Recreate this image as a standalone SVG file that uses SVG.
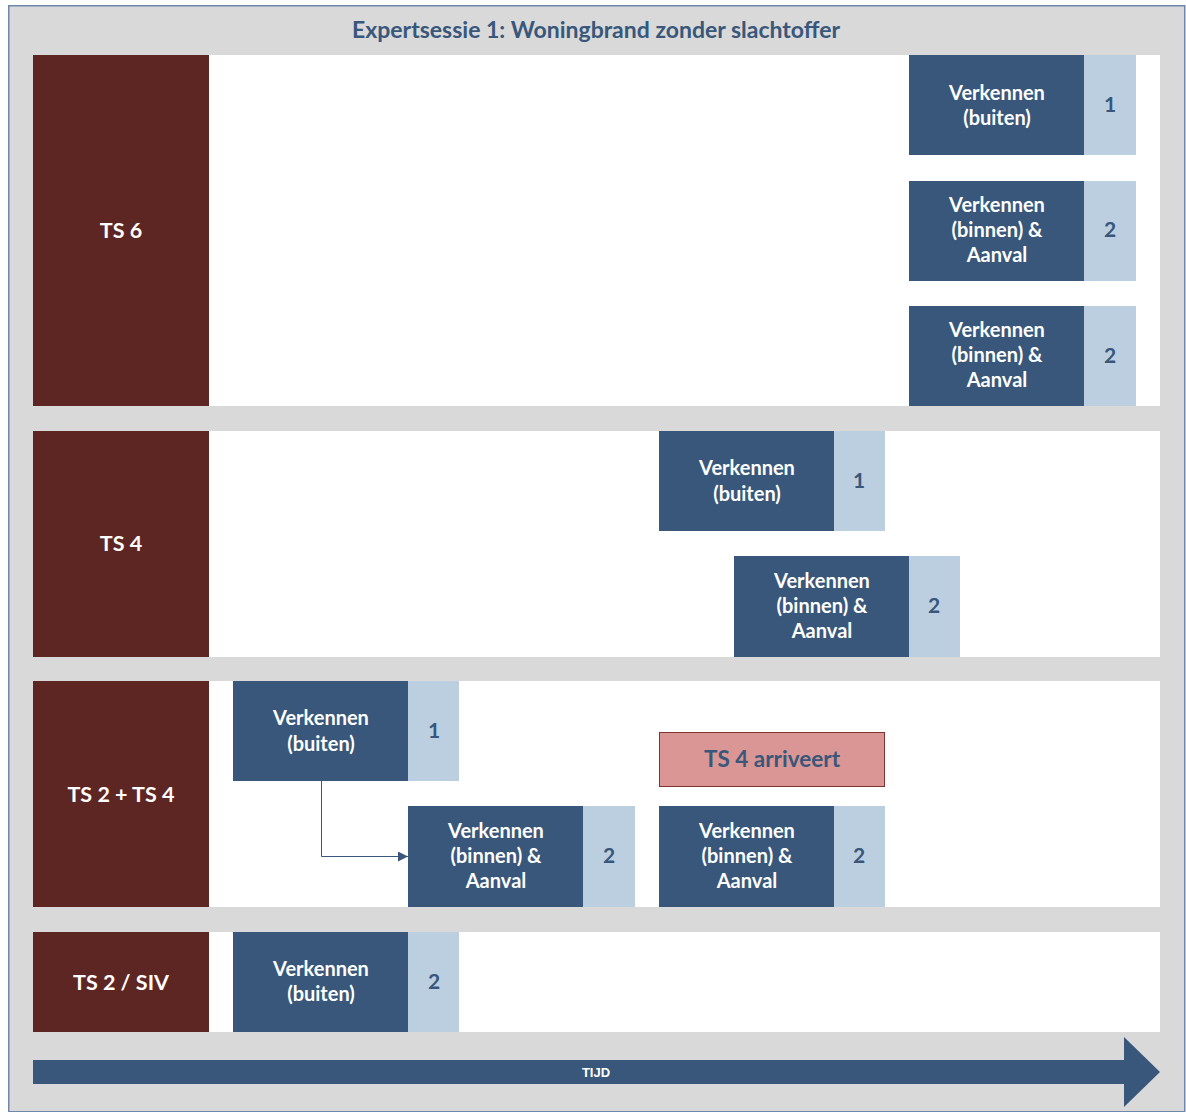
<svg xmlns="http://www.w3.org/2000/svg" width="1186" height="1112" viewBox="0 0 1186 1112">
  <style>
    .frame { fill: #d9d9d9; stroke: #6f87ab; stroke-width: 1.5; }
    .lane { fill: #ffffff; }
    .lab { fill: #5e2623; }
    .labt { fill: #ffffff; font-family: Lato, "Liberation Sans", sans-serif; font-weight: bold; font-size: 21.5px; text-anchor: middle; }
    .act { fill: #38577a; }
    .num { fill: #bccfe1; }
    .actt { fill: #ffffff; font-family: Lato, "Liberation Sans", sans-serif; font-weight: bold; font-size: 20px; text-anchor: middle; }
    .numt { fill: #38577a; font-family: Lato, "Liberation Sans", sans-serif; font-weight: bold; font-size: 21px; text-anchor: middle; }
    .title { fill: #38577a; font-family: Lato, "Liberation Sans", sans-serif; font-weight: bold; font-size: 23px; text-anchor: middle; }
    .conn { fill: none; stroke: #38577a; stroke-width: 1; }
  </style>
  <defs>
    <marker id="arrow" viewBox="0 0 10 10" refX="10" refY="5" markerWidth="14" markerHeight="10" markerUnits="userSpaceOnUse" orient="auto">
      <path d="M0,0 L10,5 L0,10 z" fill="#38577a"/>
    </marker>
  </defs>

  <rect class="frame" x="8.75" y="5.75" width="1176" height="1106"/>
  <text class="title" x="596" y="38">Expertsessie 1: Woningbrand zonder slachtoffer</text>

  <!-- lanes -->
  <rect class="lane" x="33" y="55" width="1127" height="351"/>
  <rect class="lane" x="33" y="431" width="1127" height="226"/>
  <rect class="lane" x="33" y="681" width="1127" height="226"/>
  <rect class="lane" x="33" y="932" width="1127" height="100"/>

  <g id="lane-ts6">
    <rect class="lab" x="33" y="55" width="176" height="351"/>
    <text class="labt" x="121" y="238">TS 6</text>
  </g>
  <g id="lane-ts4">
    <rect class="lab" x="33" y="431" width="176" height="226"/>
    <text class="labt" x="121" y="551">TS 4</text>
  </g>
  <g id="lane-ts2ts4">
    <rect class="lab" x="33" y="681" width="176" height="226"/>
    <text class="labt" x="121" y="802">TS 2 + TS 4</text>
  </g>
  <g id="lane-ts2siv">
    <rect class="lab" x="33" y="932" width="176" height="100"/>
    <text class="labt" x="121" y="990">TS 2 / SIV</text>
  </g>

  <!-- TS 6 activities -->
  <g id="ts6-a1">
    <rect class="act" x="909" y="55" width="175" height="100"/>
    <rect class="num" x="1084" y="55" width="52" height="100"/>
    <text class="actt" x="997" y="100">Verkennen</text>
    <text class="actt" x="997" y="125">(buiten)</text>
    <text class="numt" x="1110" y="112">1</text>
  </g>
  <g id="ts6-a2">
    <rect class="act" x="909" y="181" width="175" height="100"/>
    <rect class="num" x="1084" y="181" width="52" height="100"/>
    <text class="actt" x="997" y="212">Verkennen</text>
    <text class="actt" x="997" y="237">(binnen) &amp;</text>
    <text class="actt" x="997" y="262">Aanval</text>
    <text class="numt" x="1110" y="237">2</text>
  </g>
  <g id="ts6-a3">
    <rect class="act" x="909" y="306" width="175" height="100"/>
    <rect class="num" x="1084" y="306" width="52" height="100"/>
    <text class="actt" x="997" y="337">Verkennen</text>
    <text class="actt" x="997" y="362">(binnen) &amp;</text>
    <text class="actt" x="997" y="387">Aanval</text>
    <text class="numt" x="1110" y="363">2</text>
  </g>

  <!-- TS 4 activities -->
  <g id="ts4-a1">
    <rect class="act" x="659" y="431" width="175" height="100"/>
    <rect class="num" x="834" y="431" width="51" height="100"/>
    <text class="actt" x="747" y="475">Verkennen</text>
    <text class="actt" x="747" y="501">(buiten)</text>
    <text class="numt" x="859" y="488">1</text>
  </g>
  <g id="ts4-a2">
    <rect class="act" x="734" y="556" width="175" height="101"/>
    <rect class="num" x="909" y="556" width="51" height="101"/>
    <text class="actt" x="822" y="588">Verkennen</text>
    <text class="actt" x="822" y="613">(binnen) &amp;</text>
    <text class="actt" x="822" y="638">Aanval</text>
    <text class="numt" x="934" y="613">2</text>
  </g>

  <!-- TS 2 + TS 4 activities -->
  <g id="ts24-a1">
    <rect class="act" x="233" y="681" width="175" height="100"/>
    <rect class="num" x="408" y="681" width="51" height="100"/>
    <text class="actt" x="321" y="725">Verkennen</text>
    <text class="actt" x="321" y="751">(buiten)</text>
    <text class="numt" x="434" y="738">1</text>
  </g>
  <g id="ts24-a2">
    <rect class="act" x="408" y="806" width="175" height="101"/>
    <rect class="num" x="583" y="806" width="52" height="101"/>
    <text class="actt" x="496" y="838">Verkennen</text>
    <text class="actt" x="496" y="863">(binnen) &amp;</text>
    <text class="actt" x="496" y="888">Aanval</text>
    <text class="numt" x="609" y="863">2</text>
  </g>
  <g id="ts24-a3">
    <rect class="act" x="659" y="806" width="175" height="101"/>
    <rect class="num" x="834" y="806" width="51" height="101"/>
    <text class="actt" x="747" y="838">Verkennen</text>
    <text class="actt" x="747" y="863">(binnen) &amp;</text>
    <text class="actt" x="747" y="888">Aanval</text>
    <text class="numt" x="859" y="863">2</text>
  </g>
  <g id="ts24-arrival">
    <rect x="659.5" y="732.5" width="225" height="54" fill="#d99694" stroke="#7f3330" stroke-width="1"/>
    <text class="numt" x="772" y="767" style="font-size:22.5px">TS 4 arriveert</text>
  </g>

  <!-- TS 2 / SIV activity -->
  <g id="ts2siv-a1">
    <rect class="act" x="233" y="932" width="175" height="100"/>
    <rect class="num" x="408" y="932" width="51" height="100"/>
    <text class="actt" x="321" y="976">Verkennen</text>
    <text class="actt" x="321" y="1001">(buiten)</text>
    <text class="numt" x="434" y="989">2</text>
  </g>

  <!-- connectors -->
  <g id="connectors">
    <path class="conn" d="M321.5,781 V856.5 H408" marker-end="url(#arrow)"/>
  </g>

  <!-- time axis -->
  <g id="time-axis">
    <path d="M33,1060 H1124 V1037 L1160,1072 L1124,1107 V1084 H33 z" fill="#38577a"/>
    <text x="596" y="1077" fill="#ffffff" font-family="'Liberation Sans Narrow', 'Liberation Sans', sans-serif" font-weight="bold" font-size="13" text-anchor="middle">TIJD</text>
  </g>
</svg>
